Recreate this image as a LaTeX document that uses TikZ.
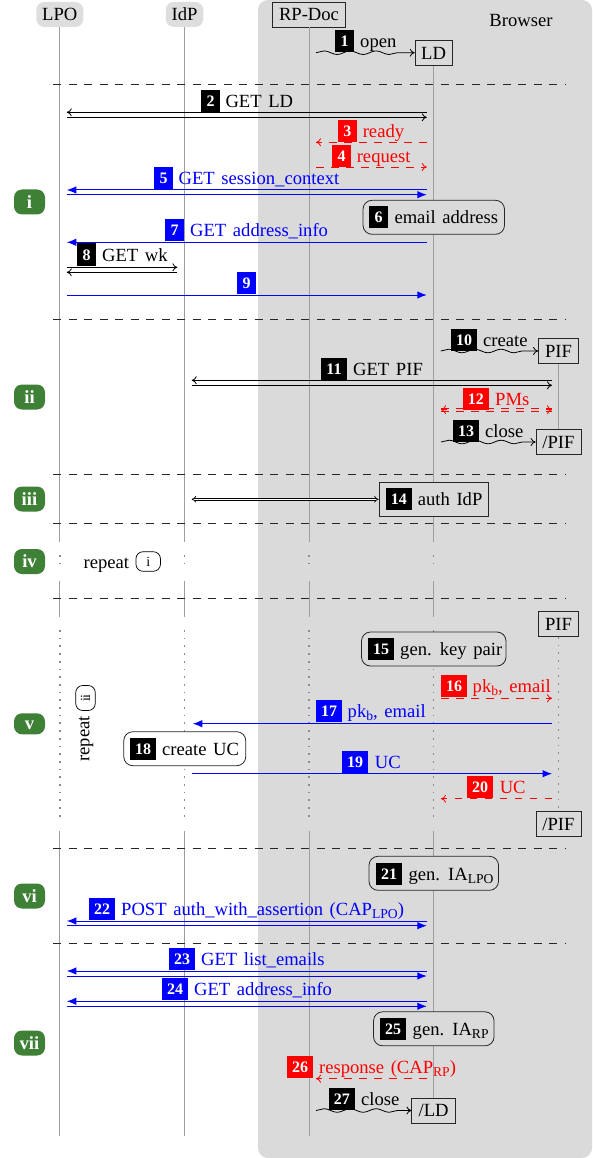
\documentclass[tikz,border=0pt]{standalone}
\usepackage{fontspec}
\setmainfont[WordSpace=1.42]{Liberation Serif}
\usetikzlibrary{arrows.meta,decorations.pathmorphing}
\definecolor{bggray}{HTML}{DADADA}
\definecolor{hdgray}{HTML}{DEDEDE}
\definecolor{pillgreen}{HTML}{3E8035}
\newcommand\sbs[1]{\raisebox{-3pt}{\fontsize{13.6}{13.6}\selectfont #1}}
\newcommand\lab[8]{%
  \node[bdg,fill=#2,minimum width=#6,anchor=south west] (b#1) at (#3,#4) {#5};
  \node[lbl,text=#2,anchor=base west] (t#1) at (#7,#4-4.6) {#8};
}
\tikzset{
  x=1pt,y=-1pt,
  lifeline/.style={draw=gray!75,line width=0.9pt},
  lifedots/.style={draw=black!45,line width=1.7pt,dash pattern=on 1.7pt off 6pt},
  sep/.style={draw=black!85,line width=0.8pt,dash pattern=on 8pt off 7.5pt},
  hdr/.style={fill=hdgray,rounded corners=8pt,inner sep=0pt,minimum height=25pt,text height=12.1pt,text depth=0pt},
  obj/.style={draw=black!85,fill=bggray,line width=0.8pt,inner sep=0pt,minimum height=25pt,text height=12.1pt,text depth=0pt},
  rbox/.style={draw=black!85,fill=bggray,line width=0.8pt,rounded corners=9pt,inner sep=0pt,minimum height=34pt},
  sbox/.style={draw=black!85,fill=bggray,line width=0.8pt,inner sep=0pt,minimum height=34pt},
  pill/.style={fill=pillgreen,text=white,font=\bfseries,rounded corners=8pt,inner sep=0pt,minimum width=31pt,minimum height=25pt,text height=12.1pt,text depth=0pt},
  bdg/.style={text=white,font=\fontsize{16}{18}\selectfont\bfseries,inner sep=0pt,minimum height=22pt,text height=11pt,text depth=0pt},
  lbl/.style={inner sep=0pt},
  bi black/.style={draw=black,line width=0.8pt,-{Computer Modern Rightarrow[length=5pt,width=8pt]}},
  bluemsg/.style={draw=blue,line width=1pt,-{Latex[length=9.5pt,width=7.5pt]}},
  redmsg/.style={draw=red,line width=0.8pt,dash pattern=on 7.5pt off 7.5pt,-{Computer Modern Rightarrow[length=5pt,width=8pt,red]}},
  wave/.style={draw=black,line width=0.8pt,-{Computer Modern Rightarrow[length=5pt,width=8pt]},decorate,decoration={snake,amplitude=1.8pt,segment length=26pt,post length=5pt}},
  circ/.style={draw=black,fill=white,line width=0.7pt,rounded corners=7pt,inner sep=0pt,font=\fontsize{14}{14}\selectfont},
  redhead/.style={draw=red,line width=0.8pt,-{Computer Modern Rightarrow[length=5pt,width=9pt]}},
  reddouble/.style={draw=red,line width=0.8pt,dash pattern=on 7.5pt off 7.5pt},
}
\begin{document}
\fontsize{18.6}{20}\selectfont
\begin{tikzpicture}
\useasboundingbox (0,0) rectangle (592,1158);
\fill[bggray,rounded corners=10pt] (258,0) rectangle (592,1158);
% headers
\node[hdr,minimum width=47pt] (lpo) at (59.8,14.5) {LPO};
\node[hdr,minimum width=37.5pt] (idp) at (184.5,14.5) {IdP};
\node[obj,minimum width=73pt] (rp) at (309,14.5) {RP-Doc};
\node[lbl] (browser) at (521,21) {Browser};
\node[obj,minimum width=37pt] (ld) at (433.6,53) {LD};
\node[obj,minimum width=40pt] (pif) at (558.5,351) {PIF};
\node[obj,minimum width=45pt] (epif) at (558.5,442) {/PIF};
\node[obj,minimum width=40pt] (pifb) at (558.5,624) {PIF};
\node[obj,minimum width=45pt] (epifb) at (558.5,824) {/PIF};
\node[obj,minimum width=43.5pt] (eld) at (433.6,1110.5) {/LD};
% lifelines
\foreach \n/\ww in {lpo/1.2pt,idp/0.9pt,rp/0.9pt}{
  \draw[lifeline,line width=\ww] (\n.south) -- (\n |- 0,541.7);
  \draw[lifedots] (\n |- 0,555) -- (\n |- 0,567);
  \draw[lifeline,line width=\ww] (\n |- 0,581) -- (\n |- 0,616.7);
  \draw[lifedots] (\n |- 0,630) -- (\n |- 0,817);
  \draw[lifeline,line width=\ww] (\n |- 0,830.7) -- (\n |- 0,1136);
}
\draw[lifeline] (ld.south) -- (ld |- 0,541.7);
\draw[lifedots] (ld |- 0,555) -- (ld |- 0,567);
\draw[lifeline] (ld |- 0,581) -- (ld |- 0,616.7);
\draw[lifedots] (ld |- 0,630) -- (ld |- 0,817);
\draw[lifeline] (ld |- 0,830.7) -- (eld.north);
\draw[lifeline] (pif.south) -- (epif.north);
\draw[lifedots] (pifb.south) -- (epifb.north);
% separators
\foreach \y in {84,319.7,474,523.7,598.7,848.7,943.3}{
  \draw[sep] (53,\y) -- (565,\y);
}
% messages
\coordinate (c1a) at (316,52.7);
\draw[wave] (c1a) -- (ld.west |- c1a);
\coordinate (c2l) at (66.8,112.3); \coordinate (c2r) at (426.8,112.3);
\coordinate (c2m) at (66.8,117.3); \coordinate (c2n) at (426.8,117.3);
\draw[bi black] (c2r) -- (c2l);
\draw[bi black] (c2m) -- (c2n);
\coordinate (c3r) at (426.8,142.3); \coordinate (c3l) at (316,142.3);
\draw[redmsg] (c3r) -- (c3l);
\coordinate (c4l) at (316,167); \coordinate (c4r) at (426.8,167);
\draw[redmsg] (c4l) -- (c4r);
\coordinate (c5r) at (426.8,190); \coordinate (c5l) at (66.8,190);
\coordinate (c5m) at (66.8,194.7); \coordinate (c5n) at (426.8,194.7);
\draw[bluemsg] (c5r) -- (c5l);
\draw[bluemsg] (c5m) -- (c5n);
\coordinate (c7r) at (426.8,242.3); \coordinate (c7l) at (66.8,242.3);
\draw[bluemsg] (c7r) -- (c7l);
\coordinate (c8l) at (66.8,267.3); \coordinate (c8r) at (177.4,267.3);
\coordinate (c8m) at (177.4,272.3); \coordinate (c8n) at (66.8,272.3);
\draw[bi black] (c8l) -- (c8r);
\draw[bi black] (c8m) -- (c8n);
\coordinate (c9l) at (66.8,295); \coordinate (c9r) at (426.8,295);
\draw[bluemsg] (c9l) -- (c9r);
\coordinate (c10a) at (440.8,351);
\draw[wave] (c10a) -- (pif.west |- c10a);
\coordinate (c11r) at (552,380.3); \coordinate (c11l) at (191.7,380.3);
\coordinate (c11m) at (191.7,385.3); \coordinate (c11n) at (552,385.3);
\draw[bi black] (c11r) -- (c11l);
\draw[bi black] (c11m) -- (c11n);
% message 12: a dashed double line with open heads
\coordinate (c12l) at (441,409.7); \coordinate (c12r) at (552,409.7);
\coordinate (c12s) at (447,409.7); \coordinate (c12t) at (546,409.7);
\draw[redhead] (c12s) -- (c12l);
\draw[redhead] (c12t) -- (c12r);
\draw[reddouble] ([yshift=1.2pt]c12l) -- ([yshift=1.2pt]c12r);
\draw[reddouble] ([yshift=-1.2pt]c12l) -- ([yshift=-1.2pt]c12r);
\coordinate (c13a) at (441,442);
\draw[wave] (c13a) -- (epif.west |- c13a);
\coordinate (c14l) at (191.7,499.3);
\node[sbox,minimum width=109.7pt] (box14) at (433.85,499.2) {};
\draw[draw=black,double=white,double distance=1.5pt,line width=0.7pt,{Implies[]}-{Implies[]}] (c14l) -- (box14.west |- c14l);
\coordinate (c16l) at (441,698.3); \coordinate (c16r) at (552,698.3);
\draw[redmsg] (c16l) -- (c16r);
\coordinate (c17r) at (552,723.7); \coordinate (c17l) at (192.8,723.7);
\draw[bluemsg] (c17r) -- (c17l);
\coordinate (c19l) at (191.7,773.7); \coordinate (c19r) at (552,773.7);
\draw[bluemsg] (c19l) -- (c19r);
\coordinate (c20r) at (552,798.7); \coordinate (c20l) at (441,798.7);
\draw[redmsg] (c20r) -- (c20l);
\coordinate (c22r) at (426.8,921); \coordinate (c22l) at (66.8,921);
\coordinate (c22m) at (66.8,925.7); \coordinate (c22n) at (426.8,925.7);
\draw[bluemsg] (c22r) -- (c22l);
\draw[bluemsg] (c22m) -- (c22n);
\coordinate (c23r) at (426.8,971); \coordinate (c23l) at (66.8,971);
\coordinate (c23m) at (66.8,976); \coordinate (c23n) at (426.8,976);
\draw[bluemsg] (c23r) -- (c23l);
\draw[bluemsg] (c23m) -- (c23n);
\coordinate (c24r) at (426.8,1001.3); \coordinate (c24l) at (66.8,1001.3);
\coordinate (c24m) at (66.8,1006.3); \coordinate (c24n) at (426.8,1006.3);
\draw[bluemsg] (c24r) -- (c24l);
\draw[bluemsg] (c24m) -- (c24n);
\coordinate (c26r) at (426.8,1078.7); \coordinate (c26l) at (316,1078.7);
\draw[redmsg] (c26r) -- (c26l);
\coordinate (c27a) at (316,1110.5);
\draw[wave] (c27a) -- (eld.west |- c27a);
% action boxes
\node[rbox,minimum width=141.5pt] (box6) at (433.75,217.3) {};
\node[rbox,minimum width=144.5pt] (box15) at (433.75,649) {};
\node[rbox,minimum width=122pt,fill=white] (box18) at (184.75,748.7) {};
\node[rbox,minimum width=129.5pt] (box21) at (433.75,873.3) {};
\node[rbox,minimum width=120.5pt] (box25) at (433.8,1028.8) {};
% labels
\lab{1}{black}{335}{52}{1}{19pt}{360}{open}
\lab{2}{black}{201}{112}{2}{19pt}{225.3}{GET LD}
\lab{3}{red}{337.7}{142}{3}{19pt}{362.6}{ready}
\lab{4}{red}{332}{167}{4}{19pt}{356.6}{request}
\lab{5}{blue}{154}{189}{5}{19pt}{178.5}{GET session\_context}
\lab{6}{black}{369}{228}{6}{19pt}{394.3}{email address}
\lab{7}{blue}{165}{241}{7}{19pt}{190}{GET address\_info}
\lab{8}{black}{77}{265.7}{8}{19pt}{102}{GET wk}
\node[bdg,fill=blue,minimum width=19pt,anchor=south west] (b9) at (237,294) {9};
\lab{10}{black}{451}{350.7}{10}{26pt}{483}{create}
\lab{11}{black}{320.8}{380}{11}{26pt}{353}{GET PIF}
\lab{12}{red}{462.6}{410}{12}{26pt}{495}{PMs}
\lab{13}{black}{453}{442}{13}{26pt}{485}{close}
\lab{14}{black}{385.7}{510}{14}{26pt}{417.7}{auth IdP}
\lab{15}{black}{368}{660}{15}{26pt}{400}{gen. key pair}
\lab{16}{red}{441}{697}{16}{26pt}{472.5}{pk\sbs{b}, email}
\lab{17}{blue}{316}{722}{17}{26pt}{347.5}{pk\sbs{b}, email}
\lab{18}{black}{130}{760}{18}{26pt}{162}{create UC}
\lab{19}{blue}{342}{773}{19}{26pt}{374.7}{UC}
\lab{20}{red}{466.8}{798}{20}{26pt}{499.6}{UC}
\lab{21}{black}{375.8}{885}{21}{26pt}{408.3}{gen. IA\sbs{LPO}}
\lab{22}{blue}{89}{920}{22}{26pt}{121}{POST auth\_with\_assertion (CAP\sbs{LPO})}
\lab{23}{blue}{169}{970}{23}{26pt}{201}{GET list\_emails}
\lab{24}{blue}{162}{1000}{24}{26pt}{194}{GET address\_info}
\lab{25}{black}{380}{1040}{25}{26pt}{412.5}{gen. IA\sbs{RP}}
\lab{26}{red}{286.8}{1078}{26}{26pt}{318.9}{response (CAP\sbs{RP})}
\lab{27}{black}{328.7}{1110}{27}{26pt}{361}{close}
% phase pills
\node[pill] (pi) at (29.5,202) {i};
\node[pill] (pii) at (29.5,397) {ii};
\node[pill] (piii) at (29.5,499) {iii};
\node[pill] (piv) at (29.5,561.5) {iv};
\node[pill,minimum height=21pt] (pv) at (29.5,723.8) {v};
\node[pill] (pvi) at (29.5,896) {vi};
\node[pill] (pvii) at (29.5,1043) {vii};
% repeats
\node[lbl,anchor=base west] (rep1) at (83.4,568) {repeat};
\node[circ,minimum width=24.5pt,minimum height=19.5pt] (ci1) at (148.2,561.5) {i};
\node[lbl,rotate=90] (rep2) at (86,739) {repeat};
\node[circ,rotate=90,minimum width=25pt,minimum height=19.5pt] (ci2) at (85.5,698) {ii};
\end{tikzpicture}
\end{document}
